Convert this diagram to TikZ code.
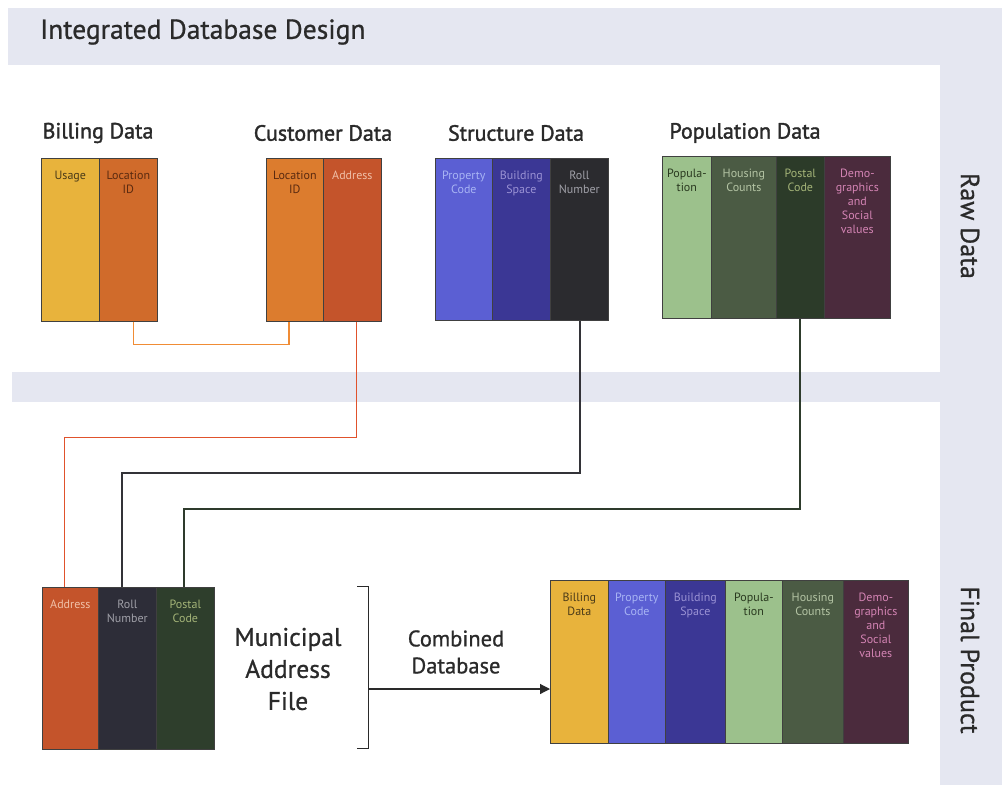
\documentclass[tikz,border=0pt]{standalone}
\usepackage{fontspec}
\setmainfont{PT Sans}
\newfontfamily\semib[FakeBold=1.6]{PT Sans}
\newfontfamily\medw[FakeBold=0.8]{PT Sans}
\usetikzlibrary{arrows.meta,calc}
\definecolor{band}{HTML}{E5E7F1}
\definecolor{cUsage}{HTML}{E8B33C}
\definecolor{cLocA}{HTML}{D06B2B}
\definecolor{cLocB}{HTML}{DC7C2E}
\definecolor{cAddr}{HTML}{C4542B}
\definecolor{cProp}{HTML}{5B5FD3}
\definecolor{cBuild}{HTML}{3B3795}
\definecolor{cRoll}{HTML}{2B2B2F}
\definecolor{cPop}{HTML}{9CC18C}
\definecolor{cHous}{HTML}{4B5B44}
\definecolor{cPost}{HTML}{2C3B29}
\definecolor{cDemo}{HTML}{4B2B3D}
\definecolor{cMRoll}{HTML}{2D2D38}
\definecolor{cMPost}{HTML}{2E3E2C}
\definecolor{tDark}{HTML}{4A3A18}
\definecolor{tBrown}{HTML}{5A2A10}
\definecolor{tAddr}{HTML}{F0C0A8}
\definecolor{tProp}{HTML}{A8B4F4}
\definecolor{tBuild}{HTML}{9A92D4}
\definecolor{tRoll}{HTML}{A0A0A8}
\definecolor{tPop}{HTML}{2A3A20}
\definecolor{tHous}{HTML}{B4C4A4}
\definecolor{tPost}{HTML}{A4B478}
\definecolor{tDemo}{HTML}{D484B4}
\definecolor{lOr}{HTML}{F08C35}
\definecolor{lRed}{HTML}{E0522C}
\definecolor{lDark}{HTML}{333338}
\definecolor{lGreen}{HTML}{2E3B2C}
\definecolor{ink}{HTML}{2A2A2A}
\newcommand\dbcol[8]{%
  \node[colbox, fill=#6, minimum width=#4pt, minimum height=#5pt] (#1) at (#2,#3) {};
  \node[coltext, text=#7, text width=#4pt] (#1t) at (#1.north) {#8};
}
\begin{document}
\begin{tikzpicture}[x=1pt,y=-1pt,
  colbox/.style={draw=black!75, line width=0.7pt, inner sep=0pt, anchor=north west},
  coltext/.style={anchor=north, align=center, inner sep=0pt, yshift=-13pt,
    font=\fontsize{12}{14}\selectfont},
  head/.style={font=\semib\fontsize{22}{24}\selectfont, text=ink, inner sep=0pt},
  big/.style={font=\medw\fontsize{25.5}{32}\selectfont, text=ink, align=center, inner sep=0pt},
  mid/.style={font=\medw\fontsize{22.5}{27}\selectfont, text=ink, align=center, inner sep=0pt},
  side/.style={font=\medw\fontsize{26}{28}\selectfont, text=ink, rotate=-90, inner sep=0pt},
  conn/.style={line width=1.9pt},
  arr/.style={line width=1.2pt, draw=ink, -{Triangle[length=10pt,width=10pt]}},
  bracket/.style={line width=1pt, draw=ink}]
\useasboundingbox (0,0) rectangle (1002,785);
\fill[white] (0,0) rectangle (1002,785);
% bands
\fill[band] (8,8) rectangle (1002,65);
\fill[band] (940,8) rectangle (1002,785);
\fill[band] (12,372) rectangle (940,402);
% title and headings
\node[font=\medw\fontsize{27.5}{30}\selectfont, text=ink, anchor=west, inner sep=0pt] (title) at (40,32) {Integrated Database Design};
\node[head] (hbill) at (98,133) {Billing Data};
\node[head] (hcust) at (323,133) {Customer Data};
\node[head] (hstr) at (516,133) {Structure Data};
\node[head] (hpop) at (745,133) {Population Data};
\node[side] (raw) at (970,226) {Raw Data};
\node[side] (fin) at (970,660) {Final Product};
% billing
\dbcol{bu}{41}{158}{58}{163}{cUsage}{tDark}{Usage}
\dbcol{bl}{99}{158}{58}{163}{cLocA}{tBrown}{Location\\ID}
% customer
\dbcol{cl}{266}{158}{57}{163}{cLocB}{tBrown}{Location\\ID}
\dbcol{ca}{323}{158}{58}{163}{cAddr}{tAddr}{Address}
% structure
\dbcol{sp}{435}{158}{57}{162}{cProp}{tProp}{Property\\Code}
\dbcol{sb}{492}{158}{58}{162}{cBuild}{tBuild}{Building\\Space}
\dbcol{sr}{550}{158}{58}{162}{cRoll}{tRoll}{Roll\\Number}
% population
\dbcol{pn}{662}{156}{49}{162}{cPop}{tPop}{Popula-\\tion}
\dbcol{ph}{711}{156}{65}{162}{cHous}{tHous}{Housing\\Counts}
\dbcol{pp}{776}{156}{48}{162}{cPost}{tPost}{Postal\\Code}
\dbcol{pd}{824}{156}{66}{162}{cDemo}{tDemo}{Demo-\\graphics\\and\\Social\\values}
% municipal address file
\dbcol{ma}{42}{587}{56}{162}{cAddr}{tAddr}{Address}
\dbcol{mr}{98}{587}{58}{162}{cMRoll}{tRoll}{Roll\\Number}
\dbcol{mp}{156}{587}{58}{162}{cMPost}{tPost}{Postal\\Code}
% final
\dbcol{fb}{550}{580}{58}{163}{cUsage}{tDark}{Billing\\Data}
\dbcol{fp}{608}{580}{57}{163}{cProp}{tProp}{Property\\Code}
\dbcol{fs}{665}{580}{60}{163}{cBuild}{tBuild}{Building\\Space}
\dbcol{fn}{725}{580}{57}{163}{cPop}{tPop}{Popula-\\tion}
\dbcol{fh}{782}{580}{61}{163}{cHous}{tHous}{Housing\\Counts}
\dbcol{fd}{843}{580}{65}{163}{cDemo}{tDemo}{Demo-\\graphics\\and\\Social\\values}
% texts
\node[big] (maf) at (288,669) {Municipal\\Address\\File};
\node[mid] (comb) at (456,652) {Combined\\Database};
% connectors
\draw[conn, lOr, line width=1.5pt] ([xshift=5pt]bl.south) -- ++(0,23) -| ([xshift=-6pt]cl.south);
\draw[conn, lRed, line width=1.5pt] ([xshift=4pt]ca.south) -- ++(0,116) -| ([xshift=-6pt]ma.north);
\draw[conn, lDark] ([xshift=1pt]sr.south) -- ++(0,152) -| ([xshift=-5pt]mr.north);
\draw[conn, lGreen] (pp.south) -- ++(0,190) -| ([xshift=-1pt]mp.north);
% bracket and arrow
\coordinate (bt) at (357,586);
\coordinate (bb) at (357,748);
\coordinate (brk) at (368,689);
\draw[bracket] (bt) -- ++(11,0) |- (bb);
\draw[arr] (brk) -- (brk -| fb.west);
\end{tikzpicture}
\end{document}
